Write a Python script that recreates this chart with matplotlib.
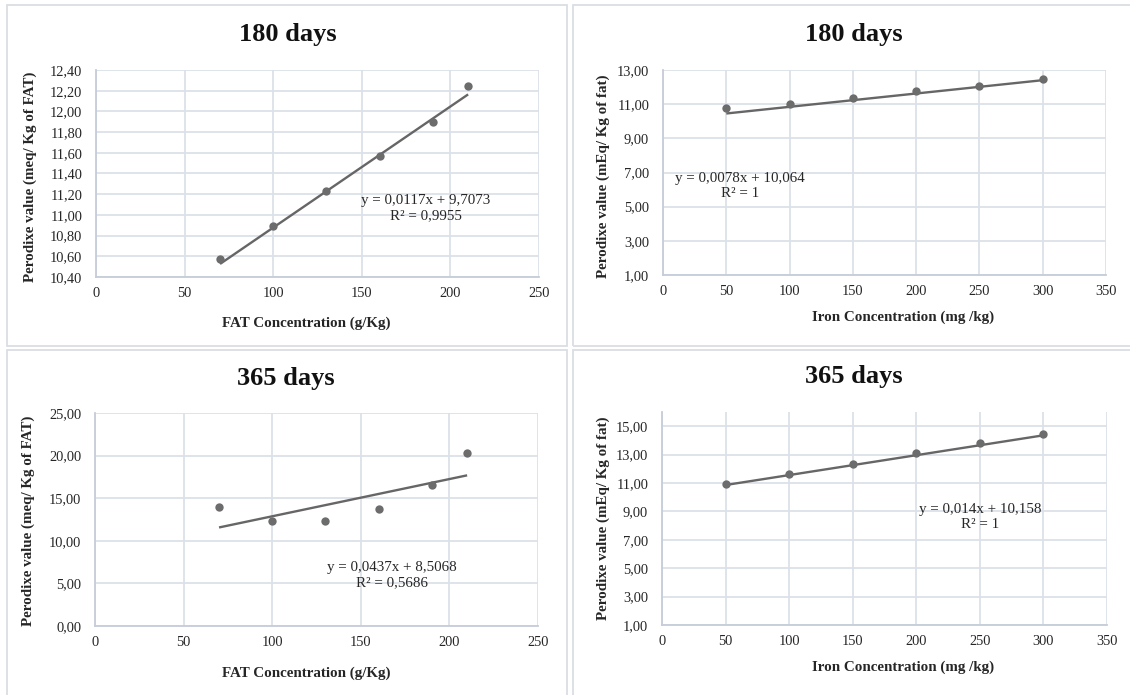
import matplotlib
matplotlib.use("Agg")
import matplotlib.pyplot as plt
from matplotlib.patches import Rectangle
from matplotlib.ticker import FuncFormatter, MultipleLocator
import numpy as np

# Peroxide value vs. fat and iron concentration, after 180 and 365 days
fat_conc = [70, 100, 130, 160, 190, 210]
pv_fat_180 = [10.57, 10.89, 11.23, 11.57, 11.90, 12.25]
pv_fat_365 = [14.0, 12.3, 12.3, 13.7, 16.5, 20.3]

iron_conc = [50, 100, 150, 200, 250, 300]
pv_iron_180 = [10.75, 11.00, 11.38, 11.75, 12.05, 12.50]
pv_iron_365 = [10.95, 11.66, 12.31, 13.08, 13.79, 14.47]

# linear trendlines: slope, intercept, R²
fit_fat_180 = (0.0117, 9.7073, 0.9955)
fit_iron_180 = (0.0078, 10.064, 1)
fit_fat_365 = (0.0437, 8.5068, 0.5686)
fit_iron_365 = (0.014, 10.158, 1)

titles = ["180 days", "180 days", "365 days", "365 days"]
xlabels = ["FAT Concentration (g/Kg)", "Iron Concentration (mg /kg)",
           "FAT Concentration (g/Kg)", "Iron Concentration (mg /kg)"]
ylabels = ["Perodixe value (meq/ Kg of FAT)", "Perodixe value (mEq/ Kg of fat)",
           "Perodixe value (meq/ Kg of FAT)", "Perodixe value (mEq/ Kg of fat)"]

W, H = 1130, 695
SERIF = ["Liberation Serif", "DejaVu Serif"]
plt.rcParams["font.family"] = SERIF

fig = plt.figure(figsize=(W / 100, H / 100), dpi=100)
fig.patch.set_facecolor("white")


def fx(x):
    return x / W


def fy(y):
    return 1 - y / H


def axes_rect(l, r, t, b):
    return [fx(l), fy(b), (r - l) / W, (b - t) / H]


# chart-area frames
frame_col = "#dadde3"
for (l, t, r, b) in [(7, 5, 567, 346), (573, 5, 1135, 346),
                     (7, 350, 567, 700), (573, 350, 1135, 700)]:
    fig.add_artist(Rectangle((fx(l), fy(b)), (r - l) / W, (b - t) / H,
                             transform=fig.transFigure, fill=False,
                             edgecolor=frame_col, linewidth=1.3))

panels = [
    dict(rect=(96, 539, 70, 277), x=fat_conc, y=pv_fat_180, fit=fit_fat_180,
         xlim=(0, 250), xstep=50, ylim=(10.4, 12.4), ystep=0.2,
         title=(288, 35), xl=(306, 323), yl=(30, 177), eq=(426, 208)),
    dict(rect=(663, 1106, 70, 275), x=iron_conc, y=pv_iron_180, fit=fit_iron_180,
         xlim=(0, 350), xstep=50, ylim=(1, 13), ystep=2,
         title=(854, 35), xl=(903, 317), yl=(603, 176), eq=(740, 186)),
    dict(rect=(95, 538, 413, 626), x=fat_conc, y=pv_fat_365, fit=fit_fat_365,
         xlim=(0, 250), xstep=50, ylim=(0, 25), ystep=5,
         title=(286, 378), xl=(306, 673), yl=(28, 521), eq=(392, 575)),
    dict(rect=(662, 1107, 412, 625), x=iron_conc, y=pv_iron_365, fit=fit_iron_365,
         xlim=(0, 350), xstep=50, ylim=(1, 16), ystep=2,
         title=(854, 377), xl=(903, 667), yl=(603, 518), eq=(980, 517)),
]

grid_col = "#dce0e8"
mark_col = "#6c6c6c"
line_col = "#666666"
txt_col = "#262626"


def comma2(v, _pos):
    return f"{v:.2f}".replace(".", ",")


for i, p in enumerate(panels):
    ax = fig.add_axes(axes_rect(*p["rect"]))
    ax.set_xlim(*p["xlim"])
    ax.set_ylim(*p["ylim"])
    ax.xaxis.set_major_locator(MultipleLocator(p["xstep"]))
    if p["ylim"][0] == 1:
        ax.set_yticks(np.arange(1, p["ylim"][1] + 0.01, p["ystep"]))
    else:
        ax.yaxis.set_major_locator(MultipleLocator(p["ystep"]))
    ax.yaxis.set_major_formatter(FuncFormatter(comma2))
    ax.xaxis.set_major_formatter(FuncFormatter(lambda v, _p: f"{v:.0f}"))
    ax.grid(True, color=grid_col, linewidth=1.3)
    ax.set_axisbelow(True)
    for s in ["top", "right"]:
        ax.spines[s].set_visible(False)
    for s in ["left", "bottom"]:
        ax.spines[s].set_color("#c6ccd9")
        ax.spines[s].set_linewidth(1.3)
    ax.tick_params(length=0, labelsize=10.4, labelcolor=txt_col)
    ax.tick_params(axis="y", pad=10)
    ax.tick_params(axis="x", pad=7)
    for lab in ax.get_xticklabels() + ax.get_yticklabels():
        lab.set_family(SERIF)

    slope, icpt, r2 = p["fit"]
    xs = np.array([min(p["x"]), max(p["x"])], dtype=float)
    ax.plot(xs, slope * xs + icpt, color=line_col, linewidth=1.7,
            solid_capstyle="butt", zorder=3)
    ax.plot(p["x"], p["y"], "o", color=mark_col, markersize=6.0,
            markeredgewidth=0, zorder=4)

    tx, ty = p["title"]
    fig.text(fx(tx), fy(ty), titles[i], ha="center", va="center",
             fontsize=19, fontweight="bold", color="#111111")
    lx, ly = p["xl"]
    fig.text(fx(lx), fy(ly), xlabels[i], ha="center", va="center",
             fontsize=10.8, fontweight="bold", color=txt_col)
    yx, yy = p["yl"]
    fig.text(fx(yx), fy(yy), ylabels[i], ha="center", va="center",
             rotation=90, fontsize=10.8, fontweight="bold", color=txt_col)

    s_txt = f"{slope:g}".replace(".", ",")
    i_txt = f"{icpt:g}".replace(".", ",")
    r_txt = f"{r2:g}".replace(".", ",")
    ex, ey = p["eq"]
    fig.text(fx(ex), fy(ey), f"y = {s_txt}x + {i_txt}\nR² = {r_txt}",
             ha="center", va="center", fontsize=10.8, color=txt_col,
             linespacing=1.15)

fig.savefig("out.png", dpi=100, facecolor="white")
